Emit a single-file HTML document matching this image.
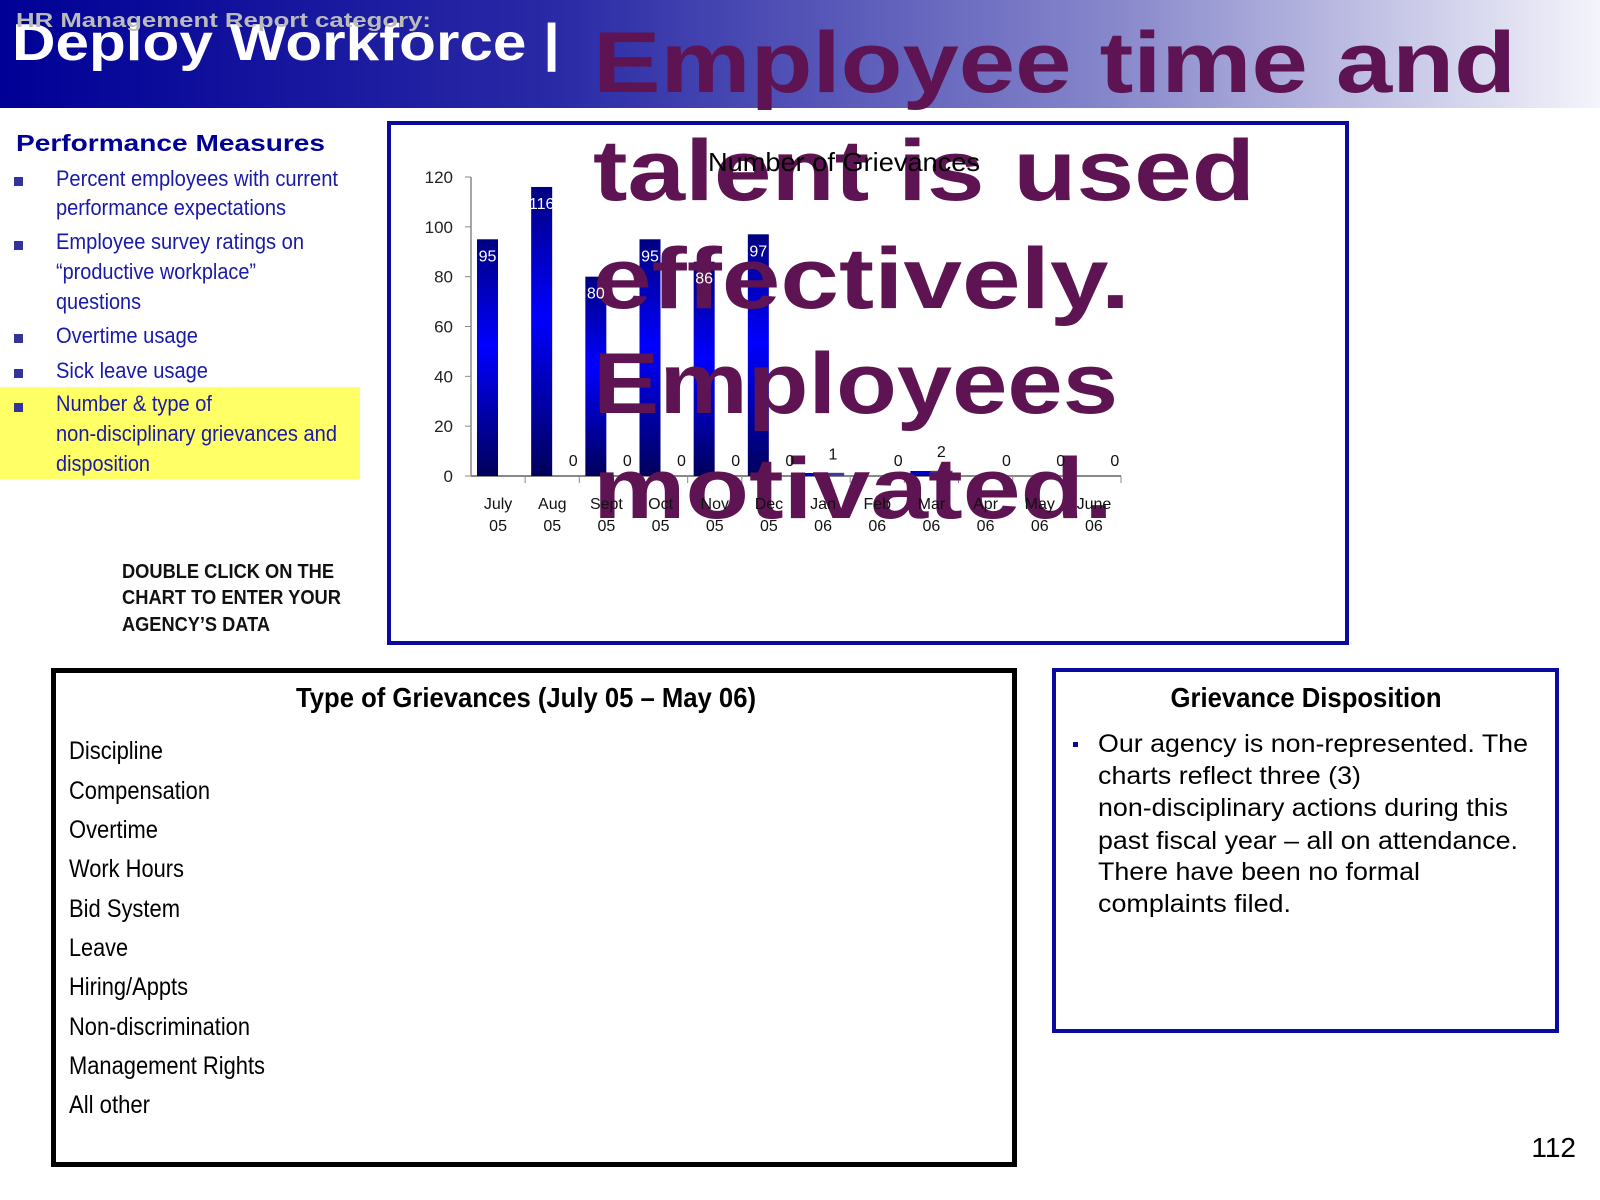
<!DOCTYPE html>
<html><head><meta charset="utf-8"><style>
html,body{margin:0;padding:0;width:1600px;height:1200px;overflow:hidden;background:#fff}
svg{display:block}
text{font-family:"Liberation Sans",sans-serif}
</style></head><body>
<svg id="page" width="1600" height="1200" viewBox="0 0 1600 1200">
<defs>
<linearGradient id="hdr" x1="0" y1="0" x2="1" y2="0">
<stop offset="0" stop-color="#000096"/><stop offset="0.35" stop-color="#2a2aa6"/><stop offset="0.7" stop-color="#8888cc"/><stop offset="1" stop-color="#f4f4fb"/>
</linearGradient>
<linearGradient id="barg" x1="0" y1="0" x2="0" y2="1">
<stop offset="0" stop-color="#000080"/><stop offset="0.45" stop-color="#0000ff"/><stop offset="1" stop-color="#00005a"/>
</linearGradient>
</defs>
<rect x="0" y="0" width="1600" height="108" fill="url(#hdr)"/>
<text x="12" y="60" font-size="52" font-weight="bold" fill="#fff" textLength="548" lengthAdjust="spacingAndGlyphs">Deploy Workforce |</text>
<text x="16" y="27" font-size="20" font-weight="bold" fill="#bbbbbb" textLength="415" lengthAdjust="spacingAndGlyphs">HR Management Report category:</text>

<rect x="0" y="387" width="360" height="92" fill="#ffff66"/>
<text x="16" y="151" font-size="23" font-weight="bold" fill="#000096" textLength="309" lengthAdjust="spacingAndGlyphs">Performance Measures</text>
<g fill="#1a1aaa" font-size="22">
<rect x="14" y="177" width="9" height="9" fill="#333399"/>
<rect x="14" y="241" width="9" height="9" fill="#333399"/>
<rect x="14" y="334" width="9" height="9" fill="#333399"/>
<rect x="14" y="369" width="9" height="9" fill="#333399"/>
<rect x="14" y="403" width="9" height="9" fill="#333399"/>
<text x="56" y="186" textLength="282" lengthAdjust="spacingAndGlyphs">Percent employees with current</text>
<text x="56" y="215" textLength="230" lengthAdjust="spacingAndGlyphs">performance expectations</text>
<text x="56" y="249" textLength="248" lengthAdjust="spacingAndGlyphs">Employee survey ratings on</text>
<text x="56" y="279" textLength="200" lengthAdjust="spacingAndGlyphs">“productive workplace”</text>
<text x="56" y="309" textLength="85" lengthAdjust="spacingAndGlyphs">questions</text>
<text x="56" y="343" textLength="142" lengthAdjust="spacingAndGlyphs">Overtime usage</text>
<text x="56" y="378" textLength="152" lengthAdjust="spacingAndGlyphs">Sick leave usage</text>
<text x="56" y="411" textLength="156" lengthAdjust="spacingAndGlyphs">Number &amp; type of</text>
<text x="56" y="441" textLength="281" lengthAdjust="spacingAndGlyphs">non-disciplinary grievances and</text>
<text x="56" y="471" textLength="94" lengthAdjust="spacingAndGlyphs">disposition</text>
</g>
<g font-size="20" font-weight="bold" fill="#111">
<text x="122" y="578" textLength="212" lengthAdjust="spacingAndGlyphs">DOUBLE CLICK ON THE</text>
<text x="122" y="604" textLength="219" lengthAdjust="spacingAndGlyphs">CHART TO ENTER YOUR</text>
<text x="122" y="631" textLength="148" lengthAdjust="spacingAndGlyphs">AGENCY’S DATA</text>
</g>

<rect x="389" y="123" width="958" height="520" fill="#fff" stroke="#0a0aa0" stroke-width="4"/>
<g id="chart"></g>

<rect x="53.5" y="670.5" width="961" height="494" fill="none" stroke="#000" stroke-width="5"/>
<text x="526" y="707" font-size="28" font-weight="bold" text-anchor="middle" textLength="460" lengthAdjust="spacingAndGlyphs">Type of Grievances (July 05 – May 06)</text>
<g font-size="25" fill="#000">
<text x="69" y="759" textLength="94" lengthAdjust="spacingAndGlyphs">Discipline</text>
<text x="69" y="799" textLength="141" lengthAdjust="spacingAndGlyphs">Compensation</text>
<text x="69" y="838" textLength="89" lengthAdjust="spacingAndGlyphs">Overtime</text>
<text x="69" y="877" textLength="115" lengthAdjust="spacingAndGlyphs">Work Hours</text>
<text x="69" y="917" textLength="111" lengthAdjust="spacingAndGlyphs">Bid System</text>
<text x="69" y="956" textLength="59" lengthAdjust="spacingAndGlyphs">Leave</text>
<text x="69" y="995" textLength="119" lengthAdjust="spacingAndGlyphs">Hiring/Appts</text>
<text x="69" y="1035" textLength="181" lengthAdjust="spacingAndGlyphs">Non-discrimination</text>
<text x="69" y="1074" textLength="196" lengthAdjust="spacingAndGlyphs">Management Rights</text>
<text x="69" y="1113" textLength="81" lengthAdjust="spacingAndGlyphs">All other</text>
</g>

<rect x="1054" y="670" width="503" height="361" fill="none" stroke="#0a0aa0" stroke-width="4"/>
<text x="1306" y="707" font-size="28" font-weight="bold" text-anchor="middle" textLength="271" lengthAdjust="spacingAndGlyphs">Grievance Disposition</text>
<rect x="1073" y="742" width="5" height="5" fill="#0a0aa0"/>
<g font-size="25" fill="#000">
<text x="1098" y="752" textLength="430" lengthAdjust="spacingAndGlyphs">Our agency is non-represented. The</text>
<text x="1098" y="784" textLength="263" lengthAdjust="spacingAndGlyphs">charts reflect three (3)</text>
<text x="1098" y="816" textLength="410" lengthAdjust="spacingAndGlyphs">non-disciplinary actions during this</text>
<text x="1098" y="849" textLength="420" lengthAdjust="spacingAndGlyphs">past fiscal year – all on attendance.</text>
<text x="1098" y="880" textLength="322" lengthAdjust="spacingAndGlyphs">There have been no formal</text>
<text x="1098" y="912" textLength="193" lengthAdjust="spacingAndGlyphs">complaints filed.</text>
</g>
<text x="1576" y="1157" font-size="28" text-anchor="end">112</text>

<g font-size="86" font-weight="bold" fill="#5e1452">
<text x="593" y="92" textLength="923" lengthAdjust="spacingAndGlyphs">Employee time and</text>
<text x="593" y="200" textLength="662" lengthAdjust="spacingAndGlyphs">talent is used</text>
<text x="593" y="308" textLength="537" lengthAdjust="spacingAndGlyphs">effectively.</text>
<text x="593" y="413" textLength="525" lengthAdjust="spacingAndGlyphs">Employees</text>
<text x="593" y="518" textLength="520" lengthAdjust="spacingAndGlyphs">motivated.</text>
</g>
<text x="844" y="171" font-size="26" text-anchor="middle" fill="#000" textLength="272" lengthAdjust="spacingAndGlyphs">Number of Grievances</text>
<g id="labels"></g>
</svg>
<script>
const categories = ["July|05","Aug|05","Sept|05","Oct|05","Nov|05","Dec|05","Jan|06","Feb|06","Mar|06","Apr|06","May|06","June|06"];
const seriesA = [95,116,80,95,86,97,1,0,2,0,0,0];
const seriesB = [null,0,0,0,0,0,1,0,2,0,0,0];
const yTicks = [0,20,40,60,80,100,120];

const NS="http://www.w3.org/2000/svg";
const g=document.getElementById('chart');
const lg=document.getElementById('labels');
const X0=471,X1=1121,Y0=476,Ymax=177,VMAX=120;
const bw=(X1-X0)/categories.length;
const yS=v=>Y0-(v/VMAX)*(Y0-Ymax);
function mk(t,a,p){const e=document.createElementNS(NS,t);for(const k in a)e.setAttribute(k,a[k]);(p||g).appendChild(e);return e;}
const ax=mk('line',{x1:X0,y1:Ymax,x2:X0,y2:Y0,stroke:'#888','stroke-width':1.5});


const bx=mk('line',{x1:X0,y1:Y0,x2:X1,y2:Y0,stroke:'#888','stroke-width':2});


yTicks.forEach(v=>{
  mk('line',{x1:X0-6,y1:yS(v),x2:X0,y2:yS(v),stroke:'#888'});
  const t=mk('text',{x:X0-18,y:yS(v)+6,'font-size':17,'text-anchor':'end',fill:'#222'});
  t.textContent=v;
  
  
});
categories.forEach((c,i)=>{
  const cx=X0+i*bw;
  mk('line',{x1:cx+bw,y1:Y0,x2:cx+bw,y2:Y0+7,stroke:'#888'});
  const [a,b]=c.split('|');
  const t1=mk('text',{x:cx+bw/2,y:509,'font-size':16,'text-anchor':'middle',fill:'#111'},lg);t1.textContent=a;
  
  
  const t2=mk('text',{x:cx+bw/2,y:531,'font-size':16,'text-anchor':'middle',fill:'#111'},lg);t2.textContent=b;
  
  
  const va=seriesA[i];
  if(va!=null){
    const h=Math.max(Y0-yS(va),va>0?3:0);
    const r=mk('rect',{x:cx+6,y:Y0-h,width:21,height:h,fill:'url(#barg)'});
    
    
    if(va>=10){const l=mk('text',{x:cx+16.5,y:yS(va)+22,'font-size':16,'text-anchor':'middle',fill:'#fff'},lg);l.textContent=va;
      
      }
  }
  const vb=seriesB[i];
  if(vb!=null){
    const h=Math.max(Y0-yS(vb),vb>0?3:0);
    if(h>0){const r=mk('rect',{x:cx+27,y:Y0-h,width:21,height:h,fill:'#3333aa',stroke:'#666','stroke-width':0.5});
      
      }
    const l=mk('text',{x:cx+(vb>0?37:48),y:yS(vb)-(vb>0?14:10),'font-size':16,'text-anchor':'middle',fill:'#111'},lg);l.textContent=vb;
    
    
  }
});
</script>
</body></html>
